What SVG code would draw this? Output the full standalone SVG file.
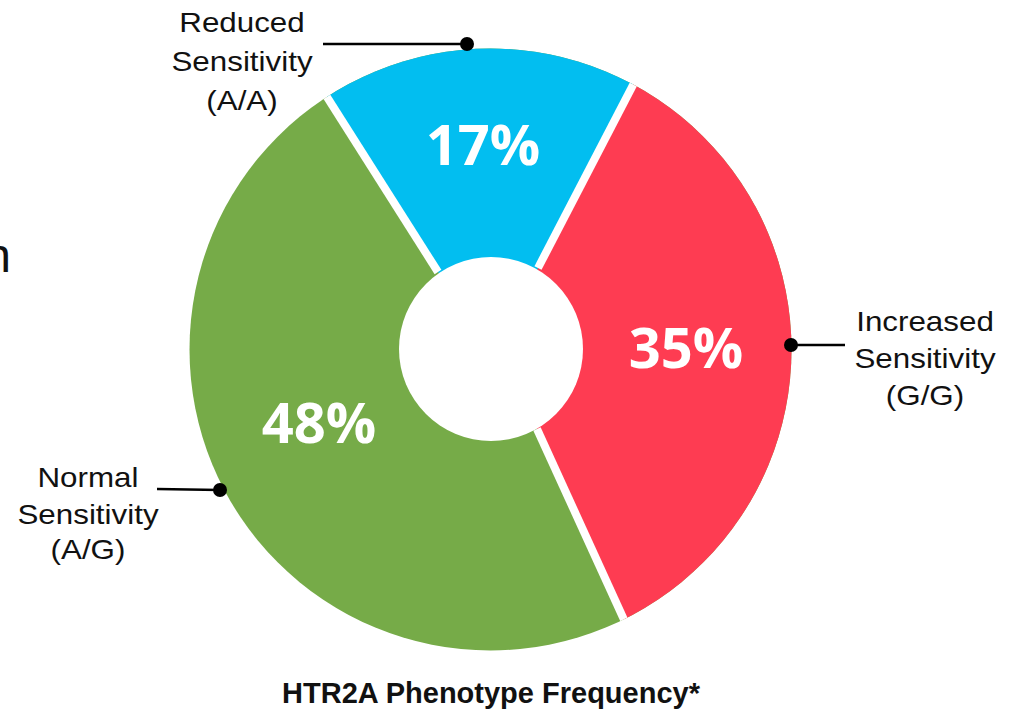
<svg xmlns="http://www.w3.org/2000/svg" width="1014" height="711" viewBox="0 0 1014 711">
  <style>
    .lbl { font-family: "Liberation Sans", Arial, sans-serif; font-size: 28px; fill: #111; text-anchor: middle; }
    .pct { font-family: "Open Sans", "Liberation Sans", sans-serif; font-weight: 700; font-size: 56px; fill: #fff; text-anchor: middle; }
    .gap { stroke: #fff; stroke-width: 8; }
    .lead { stroke: #000; stroke-width: 2.5; fill: none; }
    .dot { fill: #000; }
  </style>
  <defs>
    <clipPath id="ring">
      <circle cx="490.5" cy="349.5" r="301"/>
    </clipPath>
  </defs>
  <rect width="1014" height="711" fill="#fff"/>
  <text x="11" y="272" style="font-family:'Liberation Sans',Arial,sans-serif;font-size:48px;fill:#111" text-anchor="end">n</text>
  <g id="donut">
    <g clip-path="url(#ring)">
      <g id="slice-normal">
        <rect x="150" y="20" width="700" height="680" fill="#76AB48"/>
      </g>
      <g id="slice-increased">
        <polygon points="494.8,351.2 700,-44 950,-44 950,760 685.5,754.5 497.4,342.2" fill="#FE3C52"/>
      </g>
      <g id="slice-reduced">
        <polygon points="495.6,362.8 222,-68.5 700,-44 494.8,351.2" fill="#02BEF0"/>
      </g>
      <line class="gap" x1="438" y1="272" x2="222" y2="-68.5"/>
      <line class="gap" x1="538" y1="268" x2="700" y2="-44"/>
      <line class="gap" x1="537" y1="429" x2="685.5" y2="754.5"/>
    </g>
    <circle cx="491" cy="349" r="92" fill="#fff"/>
    <text class="pct" x="483" y="165">17%</text>
    <text class="pct" x="686" y="368">35%</text>
    <text class="pct" x="319" y="443">48%</text>
  </g>
  <g id="connectors">
    <line class="lead" x1="323" y1="44" x2="467" y2="44"/>
    <circle class="dot" cx="467" cy="44" r="7"/>
    <line class="lead" x1="791" y1="345" x2="845" y2="345"/>
    <circle class="dot" cx="791" cy="345" r="7"/>
    <line class="lead" x1="157" y1="489" x2="220" y2="490"/>
    <circle class="dot" cx="220" cy="490" r="7"/>
  </g>
  <g id="label-reduced" transform="translate(242,0) scale(1.12,1)">
    <text class="lbl" x="0" y="32">Reduced</text>
    <text class="lbl" x="0" y="71">Sensitivity</text>
    <text class="lbl" x="0" y="110">(A/A)</text>
  </g>
  <g id="label-increased" transform="translate(925,0) scale(1.12,1)">
    <text class="lbl" x="0" y="331">Increased</text>
    <text class="lbl" x="0" y="368">Sensitivity</text>
    <text class="lbl" x="0" y="405">(G/G)</text>
  </g>
  <g id="label-normal" transform="translate(88,0) scale(1.12,1)">
    <text class="lbl" x="0" y="487">Normal</text>
    <text class="lbl" x="0" y="524">Sensitivity</text>
    <text class="lbl" x="0" y="559">(A/G)</text>
  </g>
  <g id="title">
    <text x="491" y="703" style="font-family:'Liberation Sans',Arial,sans-serif;font-weight:700;font-size:29px;fill:#111" text-anchor="middle">HTR2A Phenotype Frequency*</text>
  </g>
</svg>
